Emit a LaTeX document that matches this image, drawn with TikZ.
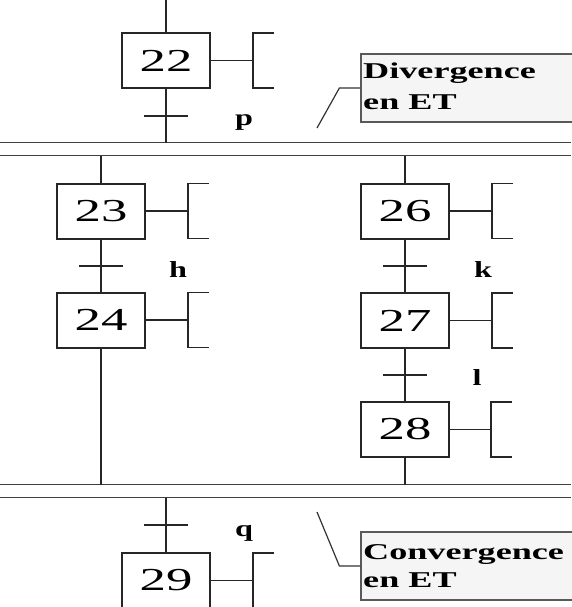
\documentclass[tikz,border=0pt]{standalone}
\usepackage{fontspec}
\setmainfont{Liberation Serif}
\usepackage{graphicx}
\newcommand\grafnum[1]{\scalebox{1.65}[1]{\fontsize{32}{32}\selectfont #1}}
\newcommand\graflbl[1]{\scalebox{1.4}[1]{#1}}
\newcommand\graftxt[1]{\scalebox{1.6}[1]{#1}}
\begin{document}
\begin{tikzpicture}[x=1pt,y=-1pt,
  stepbox/.style={draw=black!85, line width=2pt, minimum width=88pt, minimum height=55pt, inner sep=0pt, fill=white},
  link/.style={draw=black!85, line width=1.3pt},
  bar/.style={draw=black!75, line width=1.5pt},
  tick/.style={draw=black!85, line width=1.5pt},
  lbl/.style={anchor=base, inner sep=0pt, font=\fontsize{23}{23}\selectfont\bfseries},
  note/.style={draw=black!65, line width=1.2pt, fill=black!4, inner sep=0pt, minimum width=240pt, minimum height=68pt},
  notetxt/.style={anchor=base west, inner sep=0pt, font=\fontsize{22.6}{22.6}\selectfont\bfseries}]
\useasboundingbox (0,0) rectangle (571,607);
\fill[white] (0,0) rectangle (571,607);

% steps
\node[stepbox] (s22) at (166,60.5) {\grafnum{22}};
\node[stepbox] (s23) at (101,211) {\grafnum{23}};
\node[stepbox] (s24) at (101,320) {\grafnum{24}};
\node[stepbox] (s26) at (405,211) {\grafnum{26}};
\node[stepbox] (s27) at (405,320.5) {\grafnum{27}};
\node[stepbox] (s28) at (405,429.5) {\grafnum{28}};
\node[stepbox] (s29) at (166,580.5) {\grafnum{29}};

% actions (brackets)
\foreach \s/\bx in {s22/253,s23/188,s24/188,s26/492,s27/492,s28/491,s29/253}{
  \coordinate (a\s) at (\bx,0 |- \s.east);
  \draw[link] (\s.east) -- (a\s);
  \draw[link] (a\s) ++(21,-27.5) -- ++(-21,0) -- ++(0,55) -- ++(21,0);
}

% double bars
\coordinate (d1a) at (0,142.5);  \coordinate (d1b) at (571,142.5);
\coordinate (d2a) at (0,155.5);  \coordinate (d2b) at (571,155.5);
\coordinate (d3a) at (0,484.5);  \coordinate (d3b) at (571,484.5);
\coordinate (d4a) at (0,497.5);  \coordinate (d4b) at (571,497.5);
\draw[bar] (d1a) -- (d1b);
\draw[bar] (d2a) -- (d2b);
\draw[bar] (d3a) -- (d3b);
\draw[bar] (d4a) -- (d4b);

% junction points
\coordinate (top) at (166,0);
\coordinate (j22) at (166,142.5);
\coordinate (j23) at (101,155.5);
\coordinate (j26) at (405,155.5);
\coordinate (j24) at (101,484.5);
\coordinate (j28) at (405,484.5);
\coordinate (j29) at (166,497.5);

% links
\draw[link] (top) -- (s22.north);
\draw[link] (s22.south) -- (j22);
\draw[link] (j23) -- (s23.north);
\draw[link] (s23.south) -- (s24.north);
\draw[link] (s24.south) -- (j24);
\draw[link] (j26) -- (s26.north);
\draw[link] (s26.south) -- (s27.north);
\draw[link] (s27.south) -- (s28.north);
\draw[link] (s28.south) -- (j28);
\draw[link] (j29) -- (s29.north);

% transitions
\coordinate (tp) at (166,116);
\coordinate (th) at (101,266);
\coordinate (tk) at (405,266);
\coordinate (tl) at (405,375);
\coordinate (tq) at (166,525);
\foreach \t in {tp,th,tk,tl,tq}{
  \draw[tick] (\t) ++(-22,0) -- ++(44,0);
}
\node[lbl] (lp) at (244,125) {\graflbl{p}};
\node[lbl] (lh) at (178,277) {\graflbl{h}};
\node[lbl] (lk) at (483,277) {\graflbl{k}};
\node[lbl] (ll) at (477,385) {\graflbl{l}};
\node[lbl] (lq) at (244,536) {\graflbl{q}};

% callouts
\node[note] (ndiv) at (481,88) {};
\node[notetxt] (tdiv1) at (363,79) {\graftxt{Divergence}};
\node[notetxt] (tdiv2) at (363,110) {\graftxt{en ET}};
\coordinate (ldiv) at (317,128);
\draw[draw=black!80, line width=1.2pt] (ndiv.west) -- ++(-21,0) -- (ldiv);

\node[note] (ncon) at (481,566) {};
\node[notetxt] (tcon1) at (363,559) {\graftxt{Convergence}};
\node[notetxt] (tcon2) at (363,587) {\graftxt{en ET}};
\coordinate (lcon) at (317,512);
\draw[draw=black!80, line width=1.2pt] (ncon.west) -- ++(-21,0) -- (lcon);
\end{tikzpicture}
\end{document}
